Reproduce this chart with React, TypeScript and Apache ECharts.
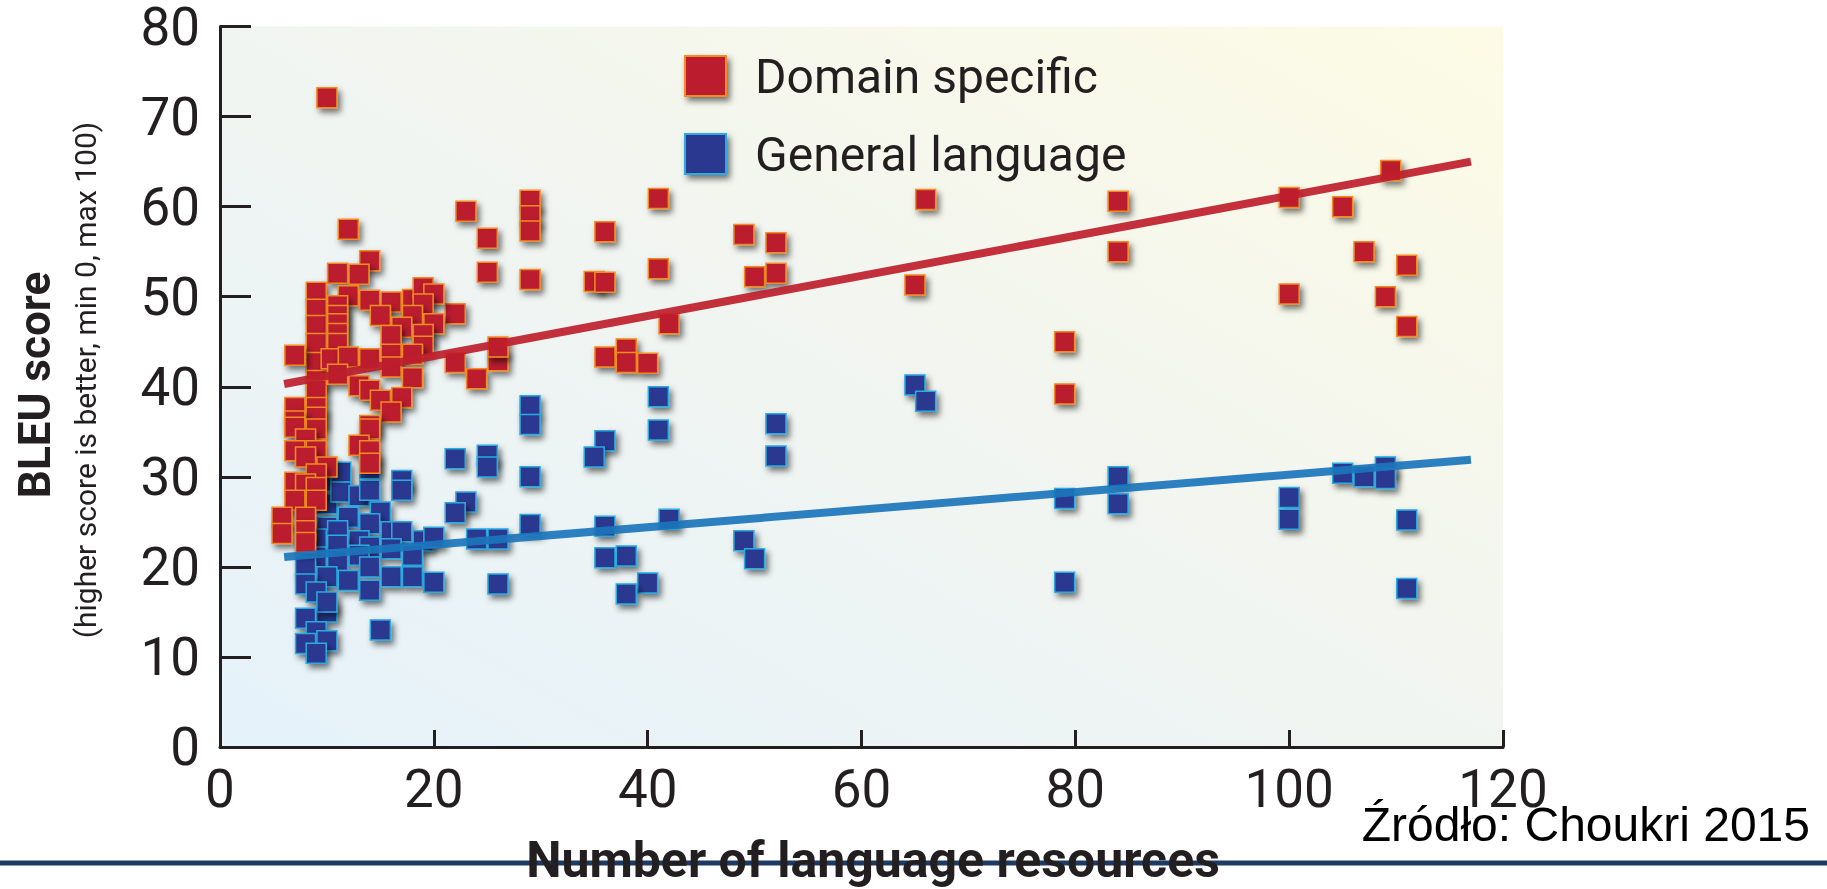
import React, { useEffect, useRef } from "react";
import * as echarts from "echarts";

// Domain specific (red) points: [number of language resources, BLEU score]
const domainPoints: [number, number][] = [
  [66, 60.8], [84, 60.6], [100, 61], [109.5, 64], [105, 60], [107, 55], [111, 53.5],
  [100, 50.3], [109, 50], [111, 46.7], [84, 55], [65, 51.3], [79, 45], [79, 39.2],
  [23, 59.5], [25, 56.5], [25, 52.7], [29, 60.7], [29, 59], [29, 57.3], [29, 51.9],
  [36, 57.2], [35, 51.7], [36, 51.6], [41, 60.9], [41, 53.1], [49, 56.9], [52, 56],
  [50, 52.2], [52, 52.6], [42, 47], [22, 48.1], [22, 42.7], [24, 40.9], [26, 42.9],
  [26, 44.4], [36, 43.3], [38, 44.2], [38, 42.7], [40, 42.6],
  [10, 72.1],
  [12, 57.5], [14, 54], [11, 52.6], [13, 52.5], [9, 50.5], [12, 50.1], [14, 49.6],
  [16, 49.4], [15, 47.9], [18, 49.7], [19, 51], [20, 50.3], [19, 49.2], [18, 47.9],
  [20, 47], [17, 46.6], [19, 45.8], [16, 45.7], [19, 44.5], [9, 48.6], [9, 46.8],
  [9, 44.8], [9, 42.7], [9, 40.7], [9, 39.6], [7, 43.5], [11, 49], [11, 47.9], [11, 47],
  [11, 45.9], [11, 44.8], [10.4, 43.1], [12, 43.3], [14, 43.1], [16, 43.6], [18, 43.6],
  [11, 41.4], [13, 40.1], [14, 39.6], [15, 38.5], [16, 42.2], [18, 41], [17, 38.8],
  [16, 37.2], [14, 35.7], [7, 37.7], [9, 37.7], [9, 36.6], [7, 36.2],
  [7, 35.5], [9, 35.3], [8, 34.2], [7, 32.9], [9, 32.9], [8, 32.2], [10, 31.1], [9, 30.3],
  [7, 29.4], [8, 29.2], [9, 28.8], [7, 27.4], [9, 27.4], [5.8, 25.5], [8, 25.5],
  [5.8, 23.7], [8, 24], [8, 22.7], [14, 35.3], [13, 33.5], [14, 32.9], [14, 31.5],
];

// General language (blue) points
const generalPoints: [number, number][] = [
  [65, 40.2], [66, 38.4], [79, 27.6], [84, 30], [84, 27], [79, 18.3], [100, 27.7],
  [100, 25.3], [105, 30.4], [107, 30], [109, 31.1], [109, 29.8], [111, 25.2], [111, 17.6],
  [29, 37.9], [29, 35.8], [41, 38.9], [41, 35.2], [52, 35.9], [52, 32.3], [36, 34],
  [35, 32.2], [22, 32], [25, 32.4], [25, 31.1], [29, 30], [23, 27.2], [22, 26], [24, 23.1],
  [26, 23.1], [29, 24.7], [36, 24.5], [42, 25.3], [36, 21], [38, 21.2], [40, 18.2],
  [38, 17], [49, 22.9], [50, 20.9], [26, 18.1],
  [10, 29.5], [10, 27], [8, 22.5],
  [14, 30.9], [17, 29.6], [17, 28.5], [11.3, 30.5], [11.3, 28.3], [13, 27.9], [14, 28.5],
  [15, 26.1], [12, 25.5], [14, 24.8], [10, 24.4], [11, 24], [16, 23.9], [17, 23.9],
  [19, 22.9], [20, 23.3], [9, 23.1], [13, 22.9], [11, 22.4], [14, 22.2], [16, 22],
  [18, 21.3], [9, 21.1], [11, 20.7], [13, 21.3], [8, 20], [10, 18.9], [12, 18.5], [14, 20],
  [14, 17.4], [16, 18.9], [18, 18.9], [20, 18.3], [8, 18.1], [9, 17.2], [10, 15],
  [10, 16.1], [8, 14.3], [9, 12.8], [8, 11.5], [10, 11.8], [9, 10.4], [15, 13],
];

// Trend lines (end points)
const domainTrend: [number, number][] = [[6, 40.3], [117, 65]];
const generalTrend: [number, number][] = [[6, 21.1], [117, 31.9]];

const seriesNames = ["Domain specific", "General language"];
const xTitle = "Number of language resources";
const yTitle = "BLEU score";
const ySubtitle = "(higher score is better, min 0, max 100)";
const sourceText = "Źródło: Choukri 2015";

export default function App() {
  const ref = useRef<HTMLDivElement>(null);
  useEffect(() => {
    if (!ref.current) return;
    const chart = echarts.init(ref.current, undefined, { renderer: "svg" });
    const shadow = {
      shadowBlur: 6,
      shadowOffsetX: 3,
      shadowOffsetY: 4,
      shadowColor: "rgba(0,0,0,0.55)",
    };
    const axisColor = "#231f20";
    const font = "Roboto";
    chart.setOption({
      animation: false,
      grid: {
        left: 220,
        top: 26,
        width: 1283,
        height: 721,
        show: true,
        borderWidth: 0,
        backgroundColor: new echarts.graphic.LinearGradient(0, 1, 1, 0, [
          { offset: 0, color: "#e5f2fa" },
          { offset: 0.5, color: "#f1f5f1" },
          { offset: 1, color: "#fdfbe5" },
        ]),
      },
      xAxis: {
        type: "value",
        min: 0,
        max: 120,
        interval: 20,
        splitLine: { show: false },
        axisLine: { lineStyle: { color: axisColor, width: 3 } },
        axisTick: { inside: true, length: 17, lineStyle: { color: axisColor, width: 3 } },
        axisLabel: { fontSize: 53, color: axisColor, fontFamily: font, margin: 15 },
      },
      yAxis: {
        type: "value",
        min: 0,
        max: 80,
        interval: 10,
        splitLine: { show: false },
        axisLine: { lineStyle: { color: axisColor, width: 3 } },
        axisTick: { inside: true, length: 31, lineStyle: { color: axisColor, width: 3 } },
        axisLabel: {
          fontSize: 53,
          color: axisColor,
          fontFamily: font,
          margin: 20,
          padding: [4, 0, 0, 0],
        },
      },
      legend: {
        data: seriesNames,
        orient: "vertical",
        left: 684,
        top: 52,
        padding: 0,
        itemWidth: 41,
        itemHeight: 40,
        itemGap: 30,
        icon: "rect",
        itemStyle: { opacity: 1, ...shadow },
        textStyle: {
          fontSize: 48,
          color: axisColor,
          fontFamily: font,
          padding: [0, 0, 0, 24],
        },
      },
      series: [
        {
          type: "scatter",
          name: seriesNames[1],
          data: generalPoints,
          symbol: "rect",
          symbolSize: 20,
          z: 2,
          itemStyle: {
            color: "#2b3990",
            borderColor: "#29abe2",
            borderWidth: 1.5,
            opacity: 1,
            ...shadow,
          },
        },
        {
          type: "scatter",
          name: seriesNames[0],
          data: domainPoints,
          symbol: "rect",
          symbolSize: 20,
          z: 3,
          itemStyle: {
            color: "#bb1e2d",
            borderColor: "#f28c22",
            borderWidth: 1.5,
            opacity: 1,
            ...shadow,
          },
        },
        {
          type: "line",
          name: "General trend",
          data: generalTrend,
          symbol: "none",
          z: 4,
          lineStyle: { color: "#1b75bb", width: 8, opacity: 0.92 },
        },
        {
          type: "line",
          name: "Domain trend",
          data: domainTrend,
          symbol: "none",
          z: 4,
          lineStyle: { color: "#be1e2d", width: 8, opacity: 0.92 },
        },
      ],
      graphic: [
        {
          type: "text",
          x: 35,
          y: 385,
          rotation: Math.PI / 2,
          style: {
            text: yTitle,
            fontSize: 44,
            fontWeight: "bold",
            fontFamily: font,
            fill: axisColor,
            align: "center",
            verticalAlign: "middle",
          },
        },
        {
          type: "text",
          x: 85,
          y: 380,
          rotation: Math.PI / 2,
          style: {
            text: ySubtitle,
            fontSize: 30,
            fontFamily: font,
            fill: axisColor,
            align: "center",
            verticalAlign: "middle",
          },
        },
        {
          type: "line",
          shape: { x1: 0, y1: 863, x2: 1827, y2: 863 },
          style: { stroke: "#1c3a63", lineWidth: 5 },
        },
        {
          type: "text",
          x: 873,
          y: 860,
          style: {
            text: xTitle,
            fontSize: 50,
            fontWeight: "bold",
            fontFamily: font,
            fill: axisColor,
            align: "center",
            verticalAlign: "middle",
          },
        },
        {
          type: "text",
          x: 1810,
          y: 824,
          style: {
            text: sourceText,
            fontSize: 48,
            fontFamily: "Liberation Sans",
            fill: "#000",
            align: "right",
            verticalAlign: "middle",
          },
        },
      ],
    });
    return () => chart.dispose();
  }, []);
  return (
    <div
      ref={ref}
      style={{ position: "fixed", left: 0, top: 0, width: "1827px", height: "889px" }}
    />
  );
}
